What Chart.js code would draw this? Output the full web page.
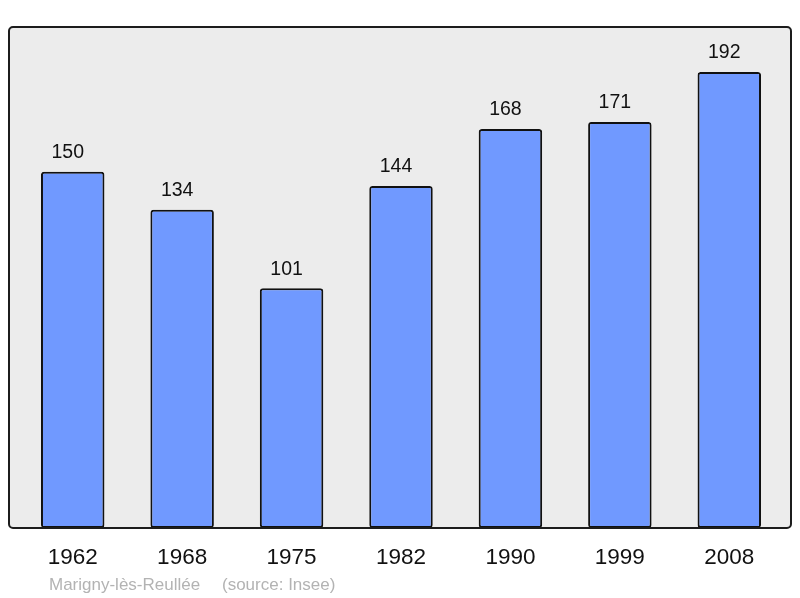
<!DOCTYPE html>
<html>
<head>
<meta charset="utf-8">
<script src="https://cdn.jsdelivr.net/npm/chart.js@4/dist/chart.umd.min.js"></script>
<style>
html,body{margin:0;padding:0;background:#fff;}
#wrap{width:800px;height:598px;position:relative;}
</style>
</head>
<body>
<div id="wrap"><canvas id="c" width="800" height="598"></canvas></div>
<script>
const years = ['1962','1968','1975','1982','1990','1999','2008'];
const population = [150,134,101,144,168,171,192];
const captionPlace = 'Marigny-lès-Reullée';
const captionSource = '(source: Insee)';

const FONT = "'Liberation Sans', Arial, sans-serif";

const framePlugin = {
  id: 'frame',
  beforeDraw(chart) {
    const {ctx, chartArea: a} = chart;
    const l = a.left - 9, r = a.right + 7, t = a.top, b = a.bottom;
    ctx.save();
    ctx.beginPath();
    ctx.roundRect(l, t, r - l, b - t, 4);
    ctx.fillStyle = '#ececec';
    ctx.fill();
    ctx.restore();
  },
  afterDraw(chart) {
    const {ctx, chartArea: a} = chart;
    const l = a.left - 9, r = a.right + 7, t = a.top, b = a.bottom;
    ctx.save();
    ctx.beginPath();
    ctx.roundRect(l, t, r - l, b - t, 4);
    ctx.lineWidth = 2;
    ctx.strokeStyle = '#1c1c1c';
    ctx.stroke();
    // value labels
    const meta = chart.getDatasetMeta(0);
    ctx.fillStyle = '#111';
    ctx.font = '19.5px ' + FONT;
    ctx.textAlign = 'center';
    ctx.textBaseline = 'middle';
    meta.data.forEach((bar, i) => {
      ctx.fillText(String(chart.data.datasets[0].data[i]), bar.x - 5, bar.y - 19);
    });
    // caption
    ctx.fillStyle = '#b3b3b3';
    ctx.font = '17px ' + FONT;
    ctx.textAlign = 'left';
    ctx.fillText(captionPlace, 49, 585);
    ctx.fillText(captionSource, 222, 585);
    ctx.restore();
  }
};

new Chart(document.getElementById('c'), {
  type: 'bar',
  data: {
    labels: years,
    datasets: [{
      data: population,
      backgroundColor: '#7099ff',
      borderColor: '#111',
      borderWidth: 2,
      borderRadius: 3,
      borderSkipped: false,
      barPercentage: 0.58,
      categoryPercentage: 1
    }]
  },
  options: {
    responsive: false,
    animation: false,
    devicePixelRatio: 1,
    layout: {padding: {left: 18, right: 16, top: 27, bottom: 0}},
    plugins: {legend: {display: false}, tooltip: {enabled: false}},
    scales: {
      y: {display: false, min: 0, max: 211},
      x: {
        grid: {display: false, drawTicks: false},
        border: {display: false},
        ticks: {color: '#111', font: {family: FONT, size: 22.5}, padding: 16, maxRotation: 0},
        afterFit(scale) { scale.height = 70; }
      }
    }
  },
  plugins: [framePlugin]
});
</script>
</body>
</html>
